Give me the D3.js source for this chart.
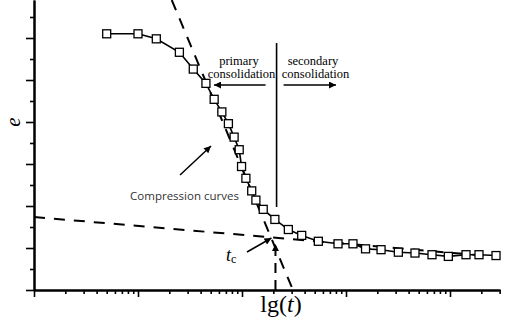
<!DOCTYPE html>
<html><head><meta charset="utf-8">
<script src="https://cdn.jsdelivr.net/npm/d3@7"></script>
<style>html,body{margin:0;padding:0;background:#fff;}svg{display:block;}</style>
</head><body>
<svg id="c" width="505" height="324"></svg>
<script>
// ---- data ----
const times = [5,10,15,25,34,45,54,64,74,84,94,99,109,124,136,160,207,279,375,542,838,1167,1541,2173,3187,4606,6713,9640,14256,19000,27700];
const voidRatio = [0.905,0.905,0.899,0.883,0.863,0.846,0.827,0.812,0.798,0.782,0.767,0.747,0.733,0.718,0.707,0.696,0.684,0.672,0.665,0.658,0.655,0.655,0.649,0.648,0.645,0.644,0.642,0.640,0.642,0.642,0.641];
const primaryTangentT = [21.1, 309];
const primaryTangentE = [0.9452, 0.6];
const secondaryTangentT = [1, 30200];
const secondaryTangentE = [0.6869, 0.6393];
const tc = [192, 0.6619];
const dividerT = 215;
const dividerE = [0.894, 0.6988];
const majorTicksX = [1,10,100,1000,10000];
const minorTicksX = [];
[1,10,100,1000,10000].forEach(d=>{for(let k=2;k<=9;k++){const v=d*k; if(v<=30200) minorTicksX.push(v);}});
const majorTicksY = [0.6,0.65,0.7,0.75,0.8,0.85,0.9];
const minorTicksY = [0.625,0.675,0.725,0.775,0.825,0.875,0.925];

// ---- scales ----
const svg = d3.select("#c");
const x = d3.scaleLog().domain([1, Math.pow(10, 466/104)]).range([34, 500]);
const y = d3.scaleLinear().domain([0.6, 0.6 + 290/42*0.05]).range([290, 0]);

const defs = svg.append("defs");
defs.append("marker").attr("id","ah").attr("viewBox","0 0 10 10").attr("refX",10).attr("refY",5)
  .attr("markerWidth",9).attr("markerHeight",7).attr("markerUnits","userSpaceOnUse").attr("orient","auto")
  .append("path").attr("d","M0,0 L10,5 L0,10 Z").attr("fill","#000");

// ---- axes ----
function styleAxis(g){ g.selectAll("path.domain").attr("stroke","#000").attr("stroke-width",2);
  g.selectAll(".tick line").attr("stroke","#000").attr("stroke-width",1.6); g.selectAll("text").remove(); }
svg.append("g").attr("transform","translate(0,290)")
  .call(d3.axisBottom(x).tickValues(minorTicksX).tickSize(4).tickSizeOuter(0).tickFormat("")).call(styleAxis);
svg.append("g").attr("transform","translate(0,290)")
  .call(d3.axisBottom(x).tickValues(majorTicksX).tickSize(7).tickSizeOuter(0).tickFormat("")).call(styleAxis);
svg.append("g").attr("transform","translate(34,0)")
  .call(d3.axisLeft(y).tickValues(minorTicksY).tickSize(4).tickSizeOuter(0).tickFormat("")).call(styleAxis);
svg.append("g").attr("transform","translate(34,0)")
  .call(d3.axisLeft(y).tickValues(majorTicksY).tickSize(8).tickSizeOuter(0).tickFormat("")).call(styleAxis);

// ---- tangent lines ----
const dash = "11,9";
svg.append("line").attr("x1",x(primaryTangentT[0])).attr("y1",y(primaryTangentE[0]))
  .attr("x2",x(primaryTangentT[1])).attr("y2",y(primaryTangentE[1]))
  .attr("stroke","#000").attr("stroke-width",2).attr("stroke-dasharray",dash);
svg.append("line").attr("x1",x(secondaryTangentT[0])).attr("y1",y(secondaryTangentE[0]))
  .attr("x2",x(secondaryTangentT[1])).attr("y2",y(secondaryTangentE[1]))
  .attr("stroke","#000").attr("stroke-width",2).attr("stroke-dasharray",dash);
// vertical dashed arrow from axis to tc
svg.append("line").attr("x1",x(tc[0])+4).attr("y1",y(0.6)).attr("x2",x(tc[0])+4).attr("y2",y(tc[1])+6)
  .attr("stroke","#000").attr("stroke-width",2).attr("stroke-dasharray","10,7").attr("marker-end","url(#ah)");

// ---- data line and markers ----
const pts = times.map((t,i)=>[t,voidRatio[i]]);
svg.append("path").datum(pts).attr("fill","none").attr("stroke","#000").attr("stroke-width",1.6)
  .attr("d", d3.line().x(d=>x(d[0])).y(d=>y(d[1])));
svg.selectAll("rect.pt").data(pts).enter().append("rect").attr("class","pt")
  .attr("x",d=>x(d[0])-4).attr("y",d=>y(d[1])-4).attr("width",8).attr("height",8)
  .attr("fill","#fff").attr("stroke","#000").attr("stroke-width",1.3);

// ---- divider and consolidation arrows ----
svg.append("line").attr("x1",x(dividerT)).attr("x2",x(dividerT)).attr("y1",y(dividerE[0])).attr("y2",y(dividerE[1]))
  .attr("stroke","#000").attr("stroke-width",1.6);
const ay = 85;
svg.append("line").attr("x1",x(dividerT)-11).attr("y1",ay).attr("x2",214).attr("y2",ay)
  .attr("stroke","#000").attr("stroke-width",1.5).attr("marker-end","url(#ah)");
svg.append("line").attr("x1",x(dividerT)+7).attr("y1",ay).attr("x2",336).attr("y2",ay)
  .attr("stroke","#000").attr("stroke-width",1.5).attr("marker-end","url(#ah)");

const serif = "'Liberation Serif','DejaVu Serif',serif";
function txt(str,xx,yy,size,anchor){ return svg.append("text").attr("x",xx).attr("y",yy)
  .attr("font-family",serif).attr("font-size",size).attr("text-anchor",anchor||"middle").attr("fill","#000").text(str);}
txt("primary",239,65,12.5);
txt("consolidation",241.5,77.5,12.5);
txt("secondary",313,65,12.5);
txt("consolidation",315.5,77.5,12.5);

// ---- compression curves annotation ----
svg.append("text").attr("x",184.5).attr("y",200).attr("text-anchor","middle")
  .attr("font-family","'Open Sans',sans-serif").attr("font-size",11.5).attr("fill","#333").text("Compression curves");
svg.append("line").attr("x1",180).attr("y1",175).attr("x2",211).attr("y2",146)
  .attr("stroke","#000").attr("stroke-width",1.5).attr("marker-end","url(#ah)");

// ---- tc annotation ----
const tct = svg.append("text").attr("x",226).attr("y",261).attr("font-family",serif).attr("font-size",18).attr("fill","#000");
tct.append("tspan").attr("font-style","italic").text("t");
tct.append("tspan").attr("font-size",12).attr("dy",2).text("c");
svg.append("line").attr("x1",247).attr("y1",252).attr("x2",x(tc[0])).attr("y2",y(tc[1]))
  .attr("stroke","#000").attr("stroke-width",1.5).attr("marker-end","url(#ah)");

// ---- axis titles ----
const xl = svg.append("text").attr("x",281).attr("y",312).attr("text-anchor","middle")
  .attr("font-family",serif).attr("font-size",24).attr("fill","#000");
xl.append("tspan").text("lg(");
xl.append("tspan").attr("font-style","italic").text("t");
xl.append("tspan").text(")");
svg.append("text").attr("transform","translate(13,122) rotate(-90)").attr("text-anchor","middle")
  .attr("dominant-baseline","central")
  .attr("font-family",serif).attr("font-size",21).attr("font-style","italic").attr("fill","#000").text("e");
</script>
</body></html>
